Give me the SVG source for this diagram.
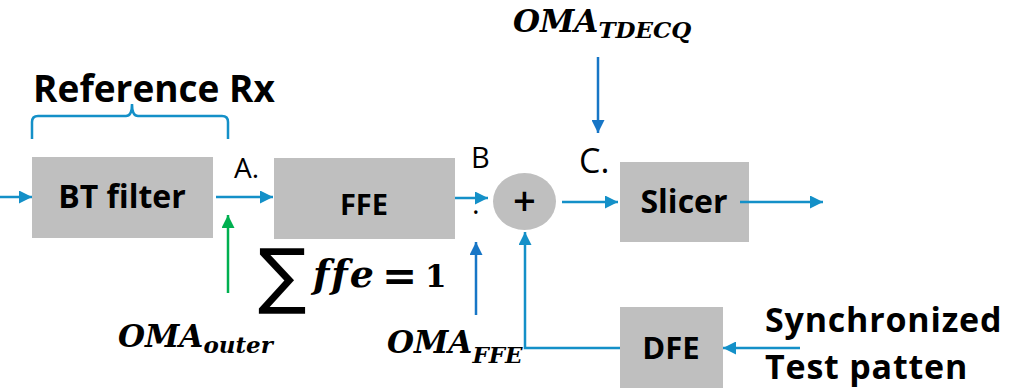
<svg xmlns="http://www.w3.org/2000/svg" width="1017" height="390" viewBox="0 0 1017 390">
<defs>
<marker id="ab" viewBox="0 0 10 10" refX="10" refY="5" markerWidth="14" markerHeight="13" markerUnits="userSpaceOnUse" orient="auto"><path d="M0,0 L10,5 L0,10 z" fill="#1490c8"/></marker>
<marker id="ad" viewBox="0 0 10 10" refX="10" refY="5" markerWidth="14" markerHeight="13" markerUnits="userSpaceOnUse" orient="auto"><path d="M0,0 L10,5 L0,10 z" fill="#1776c6"/></marker>
<marker id="ag" viewBox="0 0 10 10" refX="10" refY="5" markerWidth="14" markerHeight="13" markerUnits="userSpaceOnUse" orient="auto"><path d="M0,0 L10,5 L0,10 z" fill="#00b050"/></marker>
<style>
.box{fill:#bfbfbf}
.lbl{font-family:"Open Sans","Liberation Sans",sans-serif;font-weight:700;fill:#000}
.mid{text-anchor:middle}
.reg{font-family:"Open Sans","Liberation Sans",sans-serif;fill:#000}
.math{font-family:"DejaVu Serif","Liberation Serif",serif;font-weight:700;fill:#000}
.it{font-style:italic}
.c{fill:none;stroke:#1490c8;stroke-width:2.5}
.cd{fill:none;stroke:#1776c6;stroke-width:2.5}
</style>
</defs>
<g id="title">
<text class="lbl mid" x="154" y="102" font-size="37">Reference Rx</text>
<path class="c" d="M32,139 V122 Q32,116 38,116 H126 Q132,116 132,104 Q132,116 138,116 H222 Q228,116 228,122 V139"/>
</g>
<g id="bt"><rect class="box" x="32" y="157" width="181" height="81"/><text class="lbl mid" x="122" y="208" font-size="32">BT filter</text></g>
<g id="ffe"><rect class="box" x="274" y="158" width="181" height="81"/><text class="lbl mid" x="364" y="215" font-size="29">FFE</text></g>
<g id="sum"><ellipse cx="524.5" cy="201.5" rx="31.5" ry="28.5" fill="#bfbfbf"/><text class="reg mid" x="524.5" y="215" font-size="40" font-weight="600">+</text></g>
<g id="slicer"><rect class="box" x="620" y="162" width="129" height="80"/><text class="lbl mid" x="684" y="213" font-size="32">Slicer</text></g>
<g id="dfe"><rect class="box" x="620" y="307" width="103" height="81"/><text class="lbl mid" x="671" y="359" font-size="31">DFE</text></g>
<g id="labels">
<text class="reg" x="234" y="178" font-size="28">A.</text>
<text class="reg" x="471" y="168" font-size="29">B</text>
<text class="reg" x="472" y="214" font-size="29">.</text>
<text class="reg" x="579" y="173" font-size="34">C.</text>
<text x="258" y="300" font-family="DejaVu Sans,sans-serif" font-size="72" fill="#000">∑</text>
<text class="math it" x="313" y="287" font-size="38" letter-spacing="2">ffe</text>
<text class="math" x="382" y="290" font-size="42">=</text>
<text class="math" x="425" y="287" font-size="31">1</text>
<text class="math it" x="118" y="347" font-size="31">OMA<tspan font-size="23" dy="6">outer</tspan></text>
<text class="math it" x="387" y="353" font-size="31">OMA<tspan font-size="23" dy="10">FFE</tspan></text>
<text class="math it" x="513" y="32" font-size="31">OMA<tspan font-size="23" dy="6">TDECQ</tspan></text>
<text class="lbl" x="765" y="332" font-size="34" letter-spacing="0.8">Synchronized</text>
<text class="lbl" x="765" y="379" font-size="34" letter-spacing="0.8">Test patten</text>
</g>
<g id="connectors">
<line class="c" x1="0" y1="197" x2="32" y2="197" marker-end="url(#ab)"/>
<line class="c" x1="216" y1="197" x2="273" y2="197" marker-end="url(#ab)"/>
<line x1="228" y1="293" x2="228" y2="215" stroke="#00b050" stroke-width="2.5" marker-end="url(#ag)"/>
<line class="c" x1="455" y1="198" x2="488" y2="198" marker-end="url(#ab)"/>
<line class="cd" x1="476" y1="315" x2="476" y2="242" marker-end="url(#ad)"/>
<line class="c" x1="562" y1="202" x2="618" y2="202" marker-end="url(#ab)"/>
<line class="cd" x1="598" y1="57" x2="598" y2="133" marker-end="url(#ad)"/>
<line class="c" x1="740" y1="202" x2="823" y2="202" marker-end="url(#ab)"/>
<line class="c" x1="800" y1="348" x2="723" y2="348" marker-end="url(#ab)"/>
<polyline class="c" points="620,348 525,348 525,232" marker-end="url(#ab)"/>
</g>
</svg>
